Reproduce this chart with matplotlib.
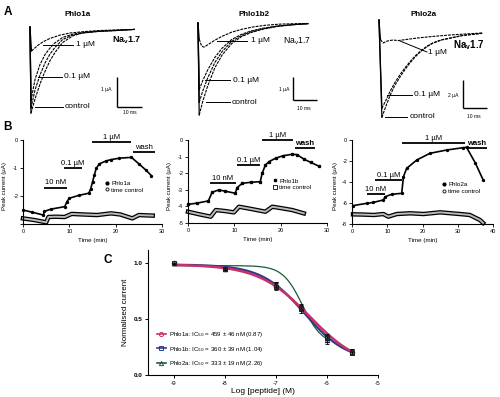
import matplotlib
matplotlib.use('Agg')
import matplotlib.pyplot as plt
import numpy as np
from matplotlib.lines import Line2D

plt.rcParams['font.family'] = ['Liberation Sans', 'DejaVu Sans']

# ---------------- DATA ----------------
# Panel A: current traces (time in ms, current in uA)
A1_t = [0, 0.4, 2, 4, 6, 8, 10, 13, 17, 21, 27, 34, 42]
A1_control = [0, -2.87, -2.4, -1.9, -1.48, -1.12, -0.85, -0.52, -0.3, -0.2, -0.15, -0.12, -0.08]
A1_mid = [0, -2.7, -2.1, -1.6, -1.2, -0.9, -0.68, -0.42, -0.27, -0.2, -0.15, -0.12, -0.08]
A1_01uM = [0, -2.45, -1.75, -1.25, -0.92, -0.7, -0.53, -0.35, -0.24, -0.18, -0.14, -0.11, -0.08]
A1_t1 = [0, 0.6, 3, 5.3, 8, 12, 16, 21, 27, 34, 42]
A1_1uM = [0, -0.8, -0.62, -0.49, -0.38, -0.27, -0.2, -0.16, -0.12, -0.1, -0.08]

A2_t = [0, 0.5, 2, 4, 7, 10, 14, 18, 22, 27, 33, 40, 46]
A2_control = [0, -4.0, -3.4, -2.75, -1.95, -1.4, -0.9, -0.6, -0.42, -0.27, -0.15, -0.07, -0.03]
A2_mid = [0, -3.45, -2.95, -2.4, -1.72, -1.25, -0.8, -0.55, -0.38, -0.25, -0.14, -0.07, -0.03]
A2_01uM = [0, -2.9, -2.5, -2.05, -1.5, -1.1, -0.72, -0.5, -0.35, -0.23, -0.13, -0.07, -0.03]
A2_t1 = [0, 0.5, 1.5, 2.5, 4, 7, 10, 14, 18, 23, 28, 34, 40, 46]
A2_1uM = [0, -0.7, -1.0, -1.05, -0.95, -0.75, -0.58, -0.4, -0.28, -0.17, -0.1, -0.05, -0.03, -0.02]

A3_t = [0, 1.2, 3, 4.6, 6.5, 8.75, 11, 12.9, 15, 17.1, 20, 22.5, 26, 29.6, 35, 43]
A3_control = [0.5, -6.45, -5.6, -4.9, -4.2, -3.57, -3.0, -2.57, -2.15, -1.8, -1.4, -1.15, -0.93, -0.8, -0.6, -0.45]
A3_01uM = [0.5, -5.8, -5.2, -4.6, -4.0, -3.4, -2.88, -2.48, -2.08, -1.75, -1.37, -1.13, -0.92, -0.79, -0.6, -0.45]
A3_t1 = [0, 0.6, 1.7, 3.5, 5.8, 8, 11, 15.8, 22, 29.6, 36, 43]
A3_1uM = [0.5, -0.9, -1.14, -1.0, -0.93, -0.97, -0.9, -0.79, -0.68, -0.57, -0.5, -0.43]

# Panel B: peak current time courses (min, uA)
B1_t = [0, 2, 4.4, 4.6, 6, 9, 9.5, 10, 12, 14.2, 14.6, 15, 15.4, 15.8, 16.5, 17.9, 19, 20.8, 23.4, 25, 26.5, 27.7]
B1_pep = [-2.5, -2.58, -2.68, -2.55, -2.47, -2.38, -2.2, -2.08, -1.98, -1.9, -1.75, -1.5, -1.25, -1.01, -0.85, -0.75, -0.7, -0.65, -0.62, -0.85, -1.07, -1.27]
B1_tc_t = [0, 2.5, 5, 5.5, 7, 9, 10.5, 13, 16, 19, 21, 23.6, 25, 28]
B1_tc = [-2.8, -2.86, -2.94, -2.75, -2.74, -2.75, -2.64, -2.66, -2.68, -2.62, -2.66, -2.8, -2.68, -2.7]

B2_t = [0, 2, 4.4, 5.2, 6.6, 8, 10.2, 10.6, 11.7, 13.5, 15.6, 16, 16.7, 17.5, 18.9, 20.5, 22.5, 23.5, 25, 26.5, 28.2]
B2_pep = [-3.88, -3.8, -3.67, -3.15, -3.01, -3.08, -3.21, -2.87, -2.61, -2.55, -2.51, -2.01, -1.51, -1.3, -1.1, -0.95, -0.86, -0.88, -1.15, -1.35, -1.57]
B2_tc_t = [0, 2.5, 4.9, 6, 8, 9.9, 11, 13, 16.7, 18.2, 20, 22.5, 25]
B2_tc = [-4.32, -4.48, -4.62, -4.22, -4.28, -4.36, -4.02, -4.12, -4.32, -4.02, -4.1, -4.22, -4.42]

B3_t = [0.3, 4.2, 6, 8.9, 9.4, 11.3, 14.1, 14.6, 15.5, 18.4, 22.1, 26.9, 31.6, 32.5, 35, 37.2]
B3_pep = [-6.25, -6.03, -5.95, -5.71, -5.4, -5.17, -5.08, -3.49, -2.7, -1.9, -1.27, -0.95, -0.73, -0.7, -2.2, -3.8]
B3_tc_t = [0.3, 3, 6.2, 8.9, 10.3, 12.7, 16.5, 20.3, 25, 30.6, 33.4, 36.3, 37.2]
B3_tc = [-7.08, -7.1, -7.14, -7.05, -7.3, -7.05, -6.98, -7.05, -6.89, -7.05, -7.14, -7.62, -7.9]

# application bars: (label, t_start, t_end, level)
B1_bars = [('10 nM', 4.6, 9.4, -1.70), ('0.1 µM', 8.9, 12.7, -0.99), ('1 µM', 14.8, 23.4, -0.06), ('wash', 23.7, 28.5, -0.44)]
B2_bars = [('10 nM', 4.75, 10.3, -2.61), ('0.1 µM', 10.5, 15.55, -1.51), ('1 µM', 15.9, 22.7, 0.0), ('wash', 23.1, 27.4, -0.46)]
B3_bars = [('10 nM', 4.2, 9.4, -5.17), ('0.1 µM', 6.6, 14.1, -3.81), ('1 µM', 14.1, 32.1, -0.32), ('wash', 32.6, 38.2, -0.79)]

# Panel C: concentration-response
C_logc = [-9, -8, -7, -6.5, -6, -5.5]
C_phlo1a = [1.0, 0.95, 0.80, 0.60, 0.34, 0.21]
C_phlo1b = [1.0, 0.95, 0.79, 0.59, 0.33, 0.20]
C_phlo2a = [1.0, 0.95, 0.81, 0.61, 0.31, 0.21]
C_err1a = [0.005, 0.01, 0.03, 0.03, 0.03, 0.02]
C_err1b = [0.005, 0.01, 0.03, 0.03, 0.03, 0.025]
C_err2a = [0.005, 0.01, 0.025, 0.03, 0.035, 0.02]
C_ic50_nM = [459, 360, 333]
C_ic50_err = [46, 39, 19]
C_hill = [0.87, 1.04, 2.26]
C_top = [0.99, 0.99, 0.98]
C_bottom = [0.06, 0.12, 0.27]
C_fit_end = [-5.5, -5.5, -6.0]
C_names = ['Phlo1a', 'Phlo1b', 'Phlo2a']
C_colors = ['#c8306a', '#2a3a88', '#1d5a3c']
C_markers = ['o', 's', '^']

# ---------------- FIGURE ----------------
W, H = 500, 397
fig = plt.figure(figsize=(W / 100, H / 100), dpi=100)


def add_ax(l, t, r, b):
    return fig.add_axes([l / W, 1 - b / H, (r - l) / W, (b - t) / H])


def ftext(x, y, s, **kw):
    fig.text(x / W, 1 - y / H, s, **kw)


def fline(xs, ys, **kw):
    fig.add_artist(Line2D([x / W for x in xs], [1 - y / H for y in ys],
                          transform=fig.transFigure, color='black', lw=0.7, **kw))


def trace_ax(box, origin, scale):
    l, t, r, b = box
    x0, y0 = origin
    sx, sy = scale
    ax = add_ax(l, t, r, b)
    ax.set_xlim((l - x0) / sx, (r - x0) / sx)
    ax.set_ylim(-(b - y0) / sy, -(t - y0) / sy)
    ax.axis('off')
    return ax


def pxdata(p, origin, scale):
    return (p[0] - origin[0]) / scale[0], -(p[1] - origin[1]) / scale[1]


trace_kw = dict(color='black', lw=0.8, ls=(0, (2.6, 0.9)), clip_on=False)

# ---- Panel A ----
ftext(8, 12, 'A', fontsize=8.5, fontweight='bold', ha='center', va='center')

A_panels = [
    dict(title='Phlo1a', tx=78, box=(18, 18, 165, 122), origin=(30, 27), scale=(2.5, 30),
         traces=[(A1_t, A1_control), (A1_t, A1_mid), (A1_t, A1_01uM), (A1_t1, A1_1uM)],
         bar=(117, 107), bar_amp=1, amp_label='1 µA', amp_pos=(106, 89),
         ms_pos=(130, 113), nav=(112, 40, 'bold', 6.5),
         labels=[('1 µM', 43, 73, 45, 76), ('0.1 µM', 38, 62, 77, 64), ('control', 35, 63, 107, 65)]),
    dict(title='Phlo1b2', tx=254, box=(185, 18, 335, 122), origin=(198, 23), scale=(2.4, 23),
         traces=[(A2_t, A2_control), (A2_t, A2_mid), (A2_t, A2_01uM), (A2_t1, A2_1uM)],
         bar=(293, 100), bar_amp=1, amp_label='1 µA', amp_pos=(284, 89),
         ms_pos=(304, 108), nav=(283, 41, 'normal', 6.2),
         labels=[('1 µM', 217, 247, 41, 251), ('0.1 µM', 205, 230, 80, 233), ('control', 206, 230, 102, 232)]),
    dict(title='Phlo2a', tx=424, box=(350, 18, 500, 122), origin=(379, 27), scale=(2.4, 14),
         traces=[(A3_t, A3_control), (A3_t, A3_01uM), (A3_t1, A3_1uM)],
         bar=(463, 108), bar_amp=2, amp_label='2 µA', amp_pos=(453, 95),
         ms_pos=(474, 117), nav=(453, 45, 'bold', 7),
         labels=[('0.1 µM', 387, 412, 95, 414), ('control', 385, 407, 117, 410)]),
]

for i, p in enumerate(A_panels):
    ax = trace_ax(p['box'], p['origin'], p['scale'])
    for t, v in p['traces']:
        ax.plot(t[:2], v[:2], color='black', lw=0.9, clip_on=False)
        ax.plot(t[1:], v[1:], **trace_kw)
    # scale bars
    bx, by = pxdata(p['bar'], p['origin'], p['scale'])
    ax.plot([bx, bx], [by, by + p['bar_amp']], color='black', lw=1.0, clip_on=False, solid_capstyle='butt')
    ax.plot([bx, bx + 10], [by, by], color='black', lw=1.0, clip_on=False, solid_capstyle='butt')
    ftext(p['amp_pos'][0], p['amp_pos'][1], p['amp_label'], fontsize=3.6, ha='center', va='center')
    ftext(p['ms_pos'][0], p['ms_pos'][1], '10 ms', fontsize=3.6, ha='center', va='center')
    ftext(p['tx'], 14, p['title'], fontsize=5.8, fontweight='bold', ha='center', va='center')
    nx, ny, nw, nfs = p['nav']
    ftext(nx, ny, r'Na$_\mathregular{v}$1.7', fontsize=nfs, fontweight=nw, ha='left', va='center')
    for lab, x1, x2, y, xt in p['labels']:
        fline([x1, x2], [y, y])
        ftext(xt, y, lab, fontsize=6, ha='left', va='center')
    if i == 2:
        fline([400, 427], [41, 52])
        ftext(428, 53, '1 µM', fontsize=6, ha='left', va='center')

# ---- Panel B ----
ftext(7, 127, 'B', fontsize=8.5, fontweight='bold', ha='center', va='center')


def style_b(ax, xmax, xt, yt, ytl):
    ax.set_xlim(0, xmax)
    ax.set_xticks(xt)
    ax.set_yticks(yt)
    ax.set_yticklabels(ytl)
    for s in ['top', 'right']:
        ax.spines[s].set_visible(False)
    for s in ['left', 'bottom']:
        ax.spines[s].set_linewidth(0.8)
    ax.tick_params(labelsize=4, length=2, width=0.6, pad=1.5)
    ax.set_xlabel('Time (min)', fontsize=4.5, labelpad=1)
    ax.set_ylabel('Peak current (µA)', fontsize=4.4, labelpad=1)


def draw_b(ax, t, pep, tc_t, tc, marker, bars, names, leg_anchor, wash_bold):
    ax.plot(tc_t, tc, color='black', lw=3.2, clip_on=False, solid_joinstyle='round')
    ax.plot(tc_t, tc, color='#bbbbbb', lw=1.4, clip_on=False, solid_joinstyle='round')
    ax.plot(t, pep, color='black', lw=1.2, marker=marker, ms=1.4, clip_on=False)
    for lab, t0, t1, lvl in bars:
        ax.plot([t0, t1], [lvl, lvl], color='black', lw=1.3, clip_on=False, solid_capstyle='butt')
        fw = 'bold' if (lab == 'wash' and wash_bold) else 'normal'
        ax.annotate(lab, ((t0 + t1) / 2, lvl), xytext=(0, 0.8), textcoords='offset points',
                    ha='center', va='bottom', fontsize=5.5, fontweight=fw)
    h = [Line2D([], [], ls='none', marker=marker, color='black', ms=2),
         Line2D([], [], ls='none', marker=marker, mfc='white', mec='black', ms=2.2, mew=0.6)]
    ax.legend(h, names, loc='upper left', bbox_to_anchor=leg_anchor, frameon=False,
              fontsize=4.5, handlelength=0.6, handletextpad=0.4, labelspacing=0.25,
              borderpad=0, borderaxespad=0)


b1 = add_ax(23, 140, 162, 224)
b1.set_ylim(-3, 0)
style_b(b1, 30, [0, 10, 20, 30], [0, -1, -2, -3], ['0', '-1', '-2', ''])
draw_b(b1, B1_t, B1_pep, B1_tc_t, B1_tc, 'o', B1_bars, ['Phlo1a', 'time control'], (0.59, 0.52), False)
b1.yaxis.set_label_coords(-0.115, 0.45)
b1.xaxis.set_label_coords(0.5, -0.17)

b2 = add_ax(188, 140, 327, 223)
b2.set_ylim(-5, 0)
style_b(b2, 30, [0, 10, 20, 30], [0, -1, -2, -3, -4, -5], ['0', '-1', '-2', '-3', '-4', '-5'])
draw_b(b2, B2_t, B2_pep, B2_tc_t, B2_tc, 's', B2_bars, ['Phlo1b', 'time control'], (0.61, 0.54), True)
b2.yaxis.set_label_coords(-0.115, 0.45)
b2.xaxis.set_label_coords(0.5, -0.17)

b3 = add_ax(352, 140, 493, 224)
b3.set_ylim(-8, 0)
style_b(b3, 40, [0, 10, 20, 30, 40], [0, -2, -4, -6, -8], ['0', '-2', '-4', '-6', '-8'])
draw_b(b3, B3_t, B3_pep, B3_tc_t, B3_tc, 'o', B3_bars, ['Phlo2a', 'time control'], (0.64, 0.5), True)
b3.yaxis.set_label_coords(-0.1, 0.45)
b3.xaxis.set_label_coords(0.5, -0.17)

# ---- Panel C ----
ftext(108, 260, 'C', fontsize=8.5, fontweight='bold', ha='center', va='center')
c = add_ax(148, 250, 378, 375)
c.set_xlim(-9.5, -5)
c.set_ylim(0, 1.12)
c.set_xticks([-9, -8, -7, -6, -5])
c.set_xticklabels(['-9', '-8', '-7', '-6', '-5'])
c.set_yticks([0, 0.5, 1.0])
c.set_yticklabels(['0.0', '0.5', '1.0'], fontweight='bold')
for s in ['top', 'right']:
    c.spines[s].set_visible(False)
for s in ['left', 'bottom']:
    c.spines[s].set_linewidth(0.8)
c.tick_params(labelsize=4.6, length=2.5, width=0.7, pad=1.5)
c.set_xlabel('Log [peptide] (M)', fontsize=6, labelpad=2)
c.set_ylabel('Normalised current', fontsize=5.8, labelpad=3)

series = [C_phlo1a, C_phlo1b, C_phlo2a]
errs = [C_err1a, C_err1b, C_err2a]
handles = []
order = [2, 1, 0]
for i in order:
    xs = np.linspace(-9, C_fit_end[i], 200)
    lic = np.log10(C_ic50_nM[i] * 1e-9)
    ys = C_bottom[i] + (C_top[i] - C_bottom[i]) / (1 + 10 ** ((xs - lic) * C_hill[i]))
    lw = 1.8 if i == 0 else (1.6 if i == 1 else 0.9)
    c.plot(xs, ys, color=C_colors[i], lw=lw, zorder=2 + (i == 0))
for i in range(3):
    c.errorbar(C_logc, series[i], yerr=errs[i], fmt='none', ecolor='black', elinewidth=0.6,
               capsize=1.5, capthick=0.6, zorder=4)
    c.plot(C_logc, series[i], ls='none', marker=C_markers[i], mfc='none', mec='#222222',
           ms=3.2, mew=0.7, zorder=5)
    handles.append(Line2D([], [], color=C_colors[i], lw=1.2, marker=C_markers[i], mfc='none',
                          mec=C_colors[i], ms=3, mew=0.7))
labels = [f'{C_names[i]}: IC$_{{50}}$ = {C_ic50_nM[i]} ± {C_ic50_err[i]} nM ({C_hill[i]:.2f})'
          for i in range(3)]
c.legend(handles, labels, loc='upper left', bbox_to_anchor=(0.04, 0.36), frameon=False,
         fontsize=4.4, handlelength=1.4, handletextpad=0.5, labelspacing=0.9,
         borderpad=0, borderaxespad=0)

fig.savefig('out.png', dpi=100)
